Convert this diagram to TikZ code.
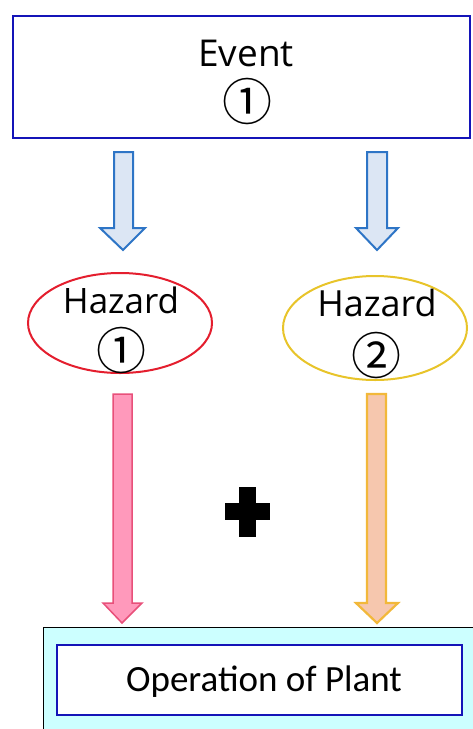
\documentclass[tikz,border=0pt]{standalone}
\usepackage{fontspec}
\setmainfont{Open Sans}
\newfontfamily\calib{Carlito}
\newfontfamily\cjk{Noto Sans CJK JP}
\usetikzlibrary{shapes.geometric}
\definecolor{evblue}{HTML}{1414B8}
\definecolor{arblue}{HTML}{2E75C6}
\definecolor{arbluefill}{HTML}{DCE6F4}
\definecolor{pinkfill}{HTML}{FF99BB}
\definecolor{pinkline}{HTML}{E8507A}
\definecolor{orfill}{HTML}{F6C7AE}
\definecolor{orline}{HTML}{F2B83A}
\definecolor{hzred}{HTML}{E41E2E}
\definecolor{hzyel}{HTML}{E8C42A}
\definecolor{cyanfill}{HTML}{CCFFFF}
\tikzset{
  boxev/.style={draw=evblue,line width=2.8pt,fill=white},
  hz/.style={ellipse,draw,line width=2pt,fill=white,inner sep=0pt},
  blk/.style={line width=2pt,line join=miter},
  circnum/.style={font=\cjk\fontsize{50}{50}\selectfont,inner sep=0pt},
}
\begin{document}
\begin{tikzpicture}[x=1pt,y=-1pt]
\useasboundingbox (0,0) rectangle (472,729);
% Event box
\path[boxev] (13,16) rectangle (470,138);
\node (event) at (246,77) {};
\node[font=\fontsize{37}{37}\selectfont,inner sep=0pt] (evtxt) at (246,53) {Event};
\node[circnum] (evnum) at (247,101) {①};
% blue arrows
\draw[blk,draw=arblue,fill=arbluefill] (114,152) -- (133,152) -- (133,228) -- (145,228) -- (123,250) -- (100,228) -- (114,228) -- cycle;
\draw[blk,draw=arblue,fill=arbluefill] (367,152) -- (387,152) -- (387,228) -- (398,228) -- (377,250) -- (356,228) -- (367,228) -- cycle;
% hazards
\node[hz,draw=hzred,minimum width=184pt,minimum height=100pt] (h1) at (120,323) {};
\node[font=\fontsize{35}{35}\selectfont,inner sep=0pt] (h1t) at (121,300) {Hazard};
\node[circnum] (h1n) at (121,350) {①};
\node[hz,draw=hzyel,minimum width=184pt,minimum height=104pt] (h2) at (375,328) {};
\node[font=\fontsize{36}{36}\selectfont,inner sep=0pt] (h2t) at (377,303) {Hazard};
\node[circnum] (h2n) at (376,355) {②};
% pink and orange arrows
\draw[blk,line width=1.5pt,draw=pinkline,fill=pinkfill] (113,394) -- (132,394) -- (132,603) -- (142,603) -- (122,623) -- (103,603) -- (113,603) -- cycle;
\draw[blk,line width=2.2pt,draw=orline,fill=orfill] (367,394) -- (386,394) -- (386,603) -- (398,603) -- (377,623) -- (356,603) -- (367,603) -- cycle;
% plus
\fill[black] (239,487) rectangle (256,537);
\fill[black] (225,503) rectangle (270,520);
% bottom
\path[draw=black,line width=0.8pt,fill=cyanfill] (43,627) rectangle (475,735);
\node[draw=evblue,line width=2.8pt,fill=white,minimum width=405pt,minimum height=70pt,inner sep=0pt] (plant) at (259.5,680) {};
\node[font=\calib\fontsize{37}{37}\selectfont,inner sep=0pt] (ptxt) at (264,682) {Operation of Plant};
\end{tikzpicture}
\end{document}
